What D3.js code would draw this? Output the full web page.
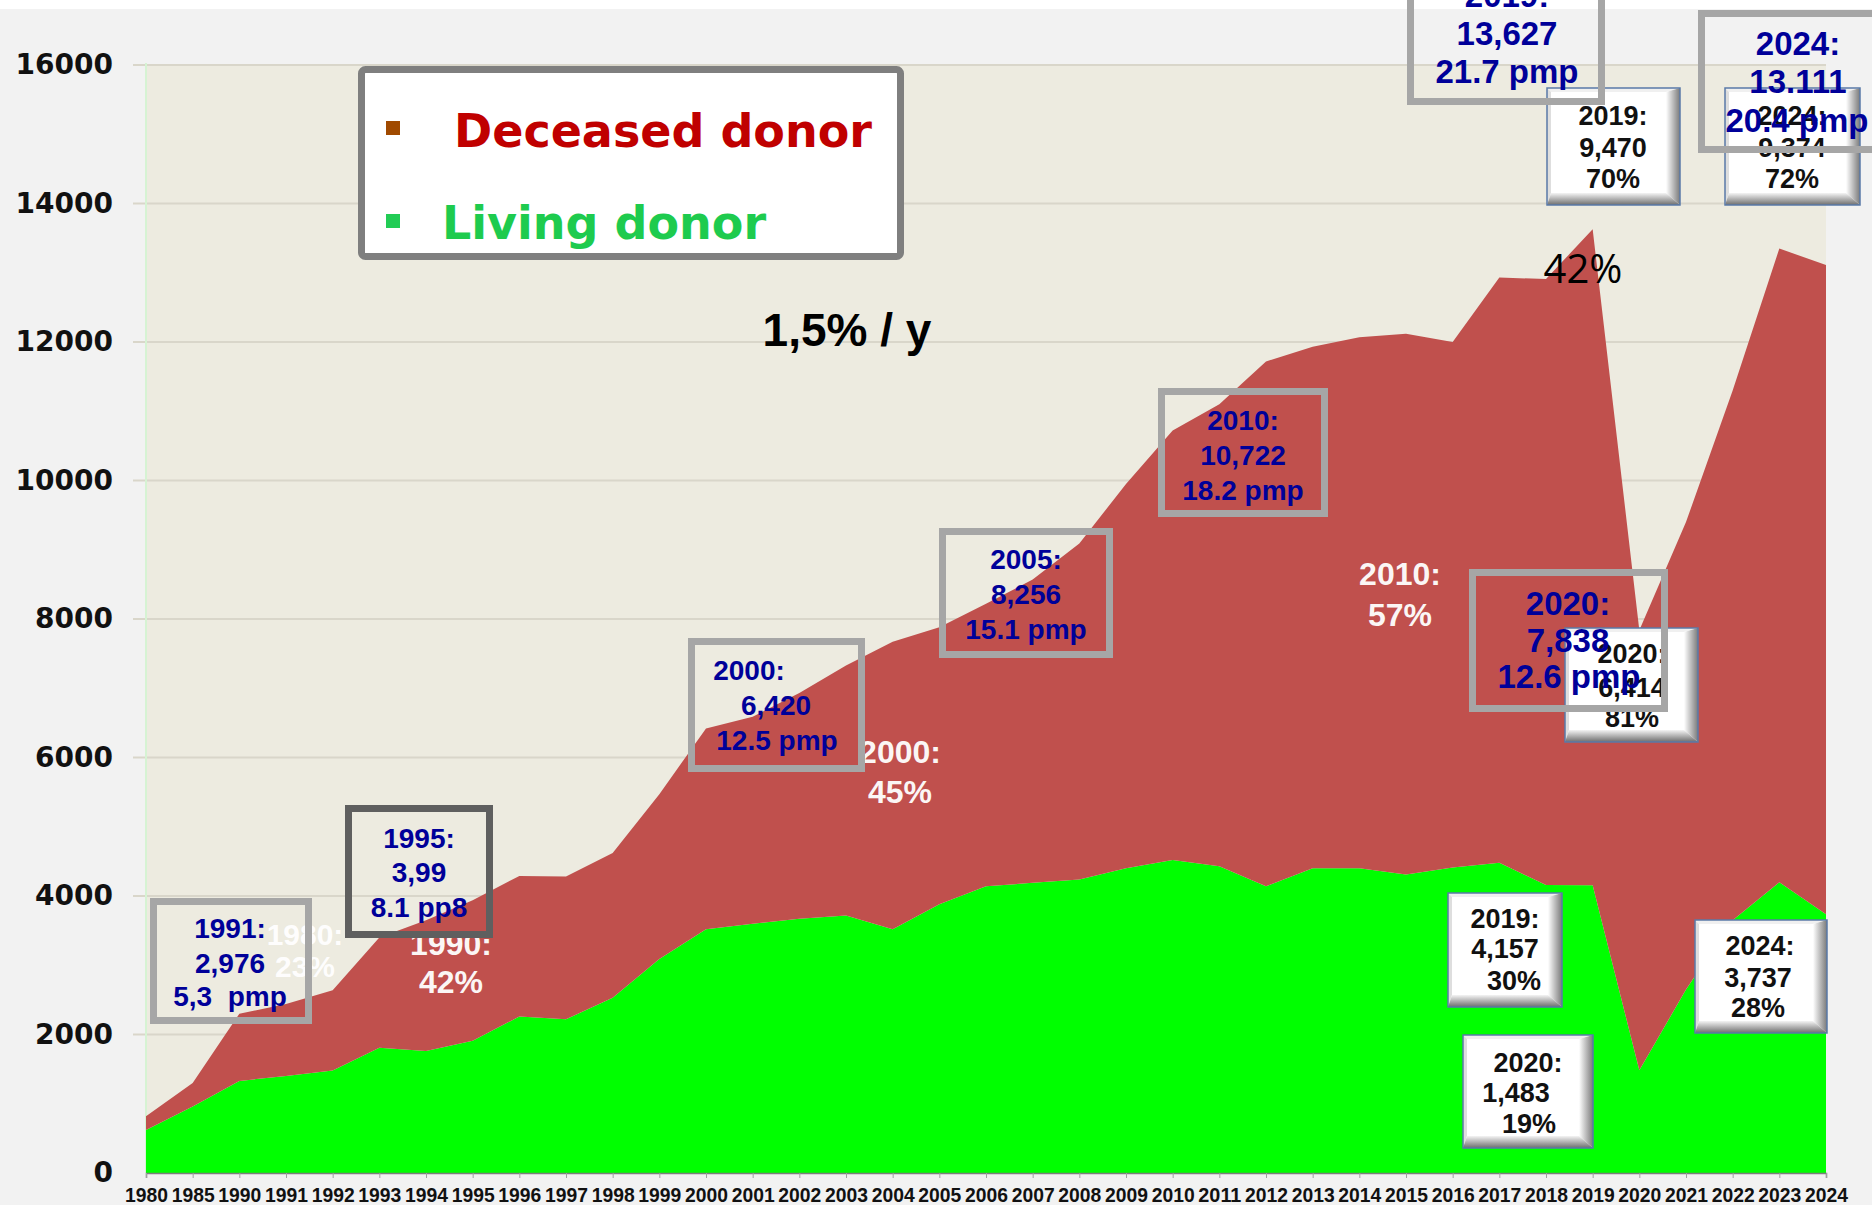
<!DOCTYPE html>
<html>
<head>
<meta charset="utf-8">
<script src="https://cdnjs.cloudflare.com/ajax/libs/d3/7.8.5/d3.min.js"></script>
<style>
body{margin:0;background:#f2f2f2;}
svg{display:block;}
text{white-space:pre;}
</style>
</head>
<body>
<svg id="chart" width="1872" height="1205"></svg>
<script>
// categories (note: 1980 and 1985 then yearly)
var years = ["1980","1985","1990","1991","1992","1993","1994","1995","1996","1997","1998","1999",
             "2000","2001","2002","2003","2004","2005","2006","2007","2008","2009","2010","2011",
             "2012","2013","2014","2015","2016","2017","2018","2019","2020","2021","2022","2023","2024"];

// living donor transplants
var living = [620, 960, 1330, 1400, 1480, 1810, 1760, 1910, 2260, 2220, 2530, 3090,
              3520, 3600, 3670, 3720, 3520, 3880, 4140, 4190, 4240, 4400, 4520, 4430,
              4140, 4400, 4400, 4310, 4410, 4480, 4160, 4157, 1483, 2650, 3650, 4200, 3737];

// deceased donor transplants
var deceased = [200, 340, 970, 1040, 1160, 1590, 1890, 2030, 2030, 2060, 2090, 2380,
                2900, 2990, 3260, 3610, 4150, 4000, 4080, 4380, 4850, 5550, 6202, 6670,
                7580, 7530, 7670, 7810, 7590, 8450, 8750, 9470, 6355, 6750, 7650, 9150, 9374];

var yTicks = [0, 2000, 4000, 6000, 8000, 10000, 12000, 14000, 16000];
var seriesKeys = ["living", "deceased"];
var legendLabels = ["Deceased donor", "Living donor"];

// annotation texts
var boxTexts = [
    ["1991:", "2,976", "5,3  pmp"],
    ["1995:", "3,99", "8.1 pp8"],
    ["2000:", "6,420", "12.5 pmp"],
    ["2005:", "8,256", "15.1 pmp"],
    ["2010:", "10,722", "18.2 pmp"],
    ["2020:", "7,838", "12.6 pmp"],
    ["2019:", "13,627", "21.7 pmp"],
    ["2024:", "13.111", "20.4 pmp"]
];
var buttonTexts = [
    ["2019:", "9,470", "70%"],
    ["2024:", "9,374", "72%"],
    ["2020:", "6,414", "81%"],
    ["2019:", "4,157", "30%"],
    ["2020:", "1,483", "19%"],
    ["2024:", "3,737", "28%"]
];
var shareTexts = [
    ["1980:", "23%"],
    ["1990:", "42%"],
    ["2000:", "45%"],
    ["2010:", "57%"]
];

// layout of the annotations (pixels)
var boxLayout = [
    {x0:150, y0:898, x1:312, y1:1024, stroke:"#a6a6a6", fs:28, cx:[230,230,230], base:[938,973,1006]},
    {x0:345, y0:805, x1:493, y1:938, stroke:"#5f5f5f", fs:28, cx:[419,419,419], base:[848,882,917]},
    {x0:688, y0:638, x1:865, y1:772, stroke:"#a6a6a6", fs:28, cx:[749,776,777], base:[680,715,750]},
    {x0:939, y0:528, x1:1113, y1:658, stroke:"#a6a6a6", fs:28, cx:[1026,1026,1026], base:[569,604,639]},
    {x0:1158, y0:388, x1:1328, y1:517, stroke:"#a6a6a6", fs:28, cx:[1243,1243,1243], base:[430,465,500]},
    {x0:1469, y0:569, x1:1668, y1:712, stroke:"#a6a6a6", fs:33, cx:[1568,1568,1569], base:[615,652,688]},
    {x0:1407, y0:-40, x1:1605, y1:105, stroke:"#a6a6a6", fs:33, cx:[1507,1507,1507], base:[7,45,83]},
    {x0:1698, y0:10, x1:1880, y1:153, stroke:"#a6a6a6", fs:33, cx:[1798,1798,1797], base:[55,93,132]}
];
var buttonLayout = [
    {x:1547, y:88, w:133, h:117, cx:[1613,1613,1613], base:[125,157,188]},
    {x:1725, y:88, w:135, h:117, cx:[1792,1792,1792], base:[125,157,188]},
    {x:1565, y:628, w:133, h:114, cx:[1632,1632,1632], base:[663,697,727], clipRight:1661},
    {x:1448, y:893, w:114, h:114, cx:[1505,1505,1514], base:[928,958,990]},
    {x:1463, y:1035, w:130, h:113, cx:[1528,1516,1529], base:[1072,1102,1133]},
    {x:1695, y:920, w:132, h:113, cx:[1760,1758,1758], base:[955,987,1017]}
];
var shareLayout = [
    {cx:305, base:[945,977], fs:30},
    {cx:451, base:[955,993], fs:32},
    {cx:900, base:[763,803], fs:32},
    {cx:1400, base:[585,626], fs:32}
];

var plotLeft = 146, plotRight = 1826, plotTop = 65, plotBottom = 1173;

var svg = d3.select("#chart");

var defs = svg.append("defs");
var gr = defs.append("linearGradient").attr("id", "bevR").attr("x1", 0).attr("x2", 1).attr("y1", 0).attr("y2", 0);
gr.append("stop").attr("offset", "0%").attr("stop-color", "#ffffff");
gr.append("stop").attr("offset", "100%").attr("stop-color", "#7a7a7a");
var gb = defs.append("linearGradient").attr("id", "bevB").attr("x1", 0).attr("x2", 0).attr("y1", 0).attr("y2", 1);
gb.append("stop").attr("offset", "0%").attr("stop-color", "#f4f4f4");
gb.append("stop").attr("offset", "100%").attr("stop-color", "#6e6e6e");

// page background
svg.append("rect").attr("width", 1872).attr("height", 1205).attr("fill", "#f2f2f2");
svg.append("rect").attr("width", 1872).attr("height", 9).attr("fill", "#ffffff");

var x = d3.scalePoint().domain(years).range([plotLeft, plotRight]);
var y = d3.scaleLinear().domain([0, 16000]).range([plotBottom, plotTop]);

// plot area
svg.append("rect")
    .attr("x", plotLeft).attr("y", plotTop)
    .attr("width", plotRight - plotLeft).attr("height", plotBottom - plotTop)
    .attr("fill", "#edebe0");

svg.append("g").selectAll("line")
    .data(yTicks.slice(1))
    .enter().append("line")
    .attr("x1", plotLeft - 13).attr("x2", plotRight)
    .attr("y1", function(d) { return y(d); })
    .attr("y2", function(d) { return y(d); })
    .attr("stroke", "#d9d6ca")
    .attr("stroke-width", 2);

svg.append("line")
    .attr("x1", plotLeft).attr("x2", plotLeft)
    .attr("y1", plotTop - 2).attr("y2", plotBottom)
    .attr("stroke", "#d6f3d3").attr("stroke-width", 2);

// stacked areas
var table = years.map(function(d, i) {
    return {year: d, living: living[i], deceased: deceased[i]};
});
var stacked = d3.stack().keys(seriesKeys)(table);
var colors = {living: "#00ff00", deceased: "#c0504d"};

var area = d3.area()
    .x(function(d) { return x(d.data.year); })
    .y0(function(d) { return y(d[0]); })
    .y1(function(d) { return y(d[1]); });

svg.append("g").selectAll("path")
    .data(stacked)
    .enter().append("path")
    .attr("d", area)
    .attr("fill", function(d) { return colors[d.key]; });

// axes
var yAxis = svg.append("g")
    .attr("transform", "translate(" + plotLeft + ",0)")
    .call(d3.axisLeft(y).tickValues(yTicks).tickFormat(d3.format("d")).tickSize(0).tickPadding(33));
yAxis.select(".domain").remove();
yAxis.selectAll("text")
    .attr("font-family", "'DejaVu Sans', sans-serif")
    .attr("font-weight", "bold")
    .attr("font-size", 28)
    .attr("fill", "#111");

var xAxis = svg.append("g")
    .attr("transform", "translate(0," + plotBottom + ")")
    .call(d3.axisBottom(x).tickSize(5).tickPadding(10));
xAxis.select(".domain").attr("stroke", "#7d7d7d").attr("stroke-width", 1.5);
xAxis.selectAll(".tick line").attr("stroke", "#a0a0a0");
xAxis.selectAll("text")
    .attr("font-family", "'Liberation Sans', Arial, sans-serif")
    .attr("font-weight", "bold")
    .attr("font-size", 20)
    .attr("fill", "#111")
    .attr("textLength", 43)
    .attr("lengthAdjust", "spacingAndGlyphs");

// legend
var legend = svg.append("g");
legend.append("rect")
    .attr("x", 361.5).attr("y", 69.5)
    .attr("width", 539).attr("height", 187)
    .attr("rx", 4)
    .attr("fill", "#ffffff")
    .attr("stroke", "#7f7f7f")
    .attr("stroke-width", 7);
var legendColors = [{mark: "#a04a00", text: "#c00000", ty: 147, tx: 454, my: 121},
                    {mark: "#22cc55", text: "#1ecb4e", ty: 239, tx: 442, my: 214}];
legendLabels.forEach(function(t, i) {
    var c = legendColors[i];
    legend.append("rect")
        .attr("x", 386).attr("y", c.my).attr("width", 14).attr("height", 14)
        .attr("fill", c.mark);
    legend.append("text")
        .attr("x", c.tx).attr("y", c.ty)
        .attr("font-family", "'DejaVu Sans', Verdana, sans-serif")
        .attr("font-weight", "bold")
        .attr("font-size", 46)
        .attr("fill", c.text)
        .text(t);
});

// free labels
svg.append("text")
    .attr("x", 847).attr("y", 346)
    .attr("text-anchor", "middle")
    .attr("font-family", "'Liberation Sans', Arial, sans-serif")
    .attr("font-weight", "bold")
    .attr("font-size", 46)
    .attr("fill", "#000")
    .text("1,5% / y");

svg.append("text")
    .attr("x", 1583).attr("y", 283)
    .attr("text-anchor", "middle")
    .attr("font-family", "'Open Sans', sans-serif")
    .attr("font-size", 40)
    .attr("fill", "#000")
    .text("42%");

function multiline(g, lines, cx, base, fs, fill) {
    lines.forEach(function(t, i) {
        g.append("text")
            .attr("x", Array.isArray(cx) ? cx[i] : cx)
            .attr("y", base[i])
            .attr("text-anchor", "middle")
            .attr("font-family", "'Liberation Sans', Arial, sans-serif")
            .attr("font-weight", "bold")
            .attr("font-size", fs)
            .attr("fill", fill)
            .text(t);
    });
}

// white share labels on the areas
shareTexts.forEach(function(lines, i) {
    var L = shareLayout[i];
    multiline(svg.append("g").attr("opacity", 0.95), lines, L.cx, L.base, L.fs, "#ffffff");
});

// bevelled buttons
buttonTexts.forEach(function(lines, i) {
    var b = buttonLayout[i];
    var l = 4, t = 4, r = 14, bb = 12;
    var g = svg.append("g").attr("transform", "translate(" + b.x + "," + b.y + ")");
    g.append("rect").attr("width", b.w).attr("height", b.h).attr("fill", "#ffffff");
    g.append("polygon")
        .attr("points", [[0,0],[b.w,0],[b.w-r,t],[l,t]].join(" "))
        .attr("fill", "#f0f0f0");
    g.append("polygon")
        .attr("points", [[0,0],[l,t],[l,b.h-bb],[0,b.h]].join(" "))
        .attr("fill", "#dedede");
    g.append("polygon")
        .attr("points", [[b.w,0],[b.w,b.h],[b.w-r,b.h-bb],[b.w-r,t]].join(" "))
        .attr("fill", "url(#bevR)");
    g.append("polygon")
        .attr("points", [[0,b.h],[b.w,b.h],[b.w-r,b.h-bb],[l,b.h-bb]].join(" "))
        .attr("fill", "url(#bevB)");
    g.append("rect").attr("width", b.w).attr("height", b.h)
        .attr("fill", "none").attr("stroke", "#5a7aa8").attr("stroke-width", 1.5);

    var tg = svg.append("g");
    if (b.clipRight) {
        defs.append("clipPath").attr("id", "clipB" + i)
            .append("rect").attr("x", b.x).attr("y", b.y)
            .attr("width", b.clipRight - b.x).attr("height", b.h);
        tg.attr("clip-path", "url(#clipB" + i + ")");
    }
    multiline(tg, lines, b.cx, b.base, 27, "#111");
});

// grey framed boxes with blue text
boxTexts.forEach(function(lines, i) {
    var b = boxLayout[i];
    svg.append("rect")
        .attr("x", b.x0 + 3.5).attr("y", b.y0 + 3.5)
        .attr("width", b.x1 - b.x0 - 7).attr("height", b.y1 - b.y0 - 7)
        .attr("fill", "none")
        .attr("stroke", b.stroke)
        .attr("stroke-width", 7);
    multiline(svg.append("g"), lines, b.cx, b.base, b.fs, "#000099");
});
</script>
</body>
</html>
